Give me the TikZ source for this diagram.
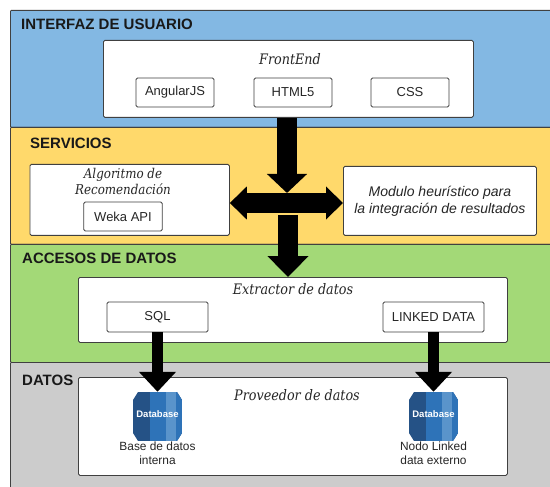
\documentclass[tikz,border=0pt]{standalone}
\usepackage{fontspec}
\setmainfont{Liberation Sans}
\newfontfamily\serifit[FakeStretch=0.88]{DejaVu Serif}
\usetikzlibrary{positioning, arrows.meta}
\definecolor{capablue}{HTML}{83B8E3}
\definecolor{capayellow}{HTML}{FFD96B}
\definecolor{capagreen}{HTML}{A3D977}
\definecolor{capagray}{HTML}{CCCCCC}
\definecolor{dbdark}{HTML}{255286}
\definecolor{dbmid}{HTML}{2E73B8}
\definecolor{dblight}{HTML}{5A94CB}
\tikzset{
layer/.style={draw=black!75, line width=0.8pt, rounded corners=1pt, anchor=north west, minimum width=545pt}, % the coloured bands
title/.style={font=\fontsize{15}{17}\selectfont\bfseries, text=black!90, inner sep=0pt},
panel/.style={draw=black!75, line width=0.8pt, fill=white, rounded corners=1.5pt, anchor=north west},
tech/.style={panel, font=\fontsize{13}{15}\selectfont, text=black!85, anchor=center, inner sep=0pt},
caption/.style={font=\fontsize{14.5}{15}\serifit\itshape\selectfont, text=black!85, inner sep=0pt, align=center},
small/.style={font=\fontsize{11.9}{14.5}\selectfont, text=black!85, inner sep=0pt, align=center},
bigarrow/.style={line width=19.5pt, -{Triangle[length=19pt,width=39pt]}, black},
thinarrow/.style={line width=10.5pt, -{Triangle[length=20pt,width=36pt]}, black},
dbnode/.style={minimum width=49pt, minimum height=49pt, inner sep=0pt, text=white, font=\fontsize{9.5}{10}\selectfont\bfseries,
  path picture={
    \clip ([xshift=5pt]path picture bounding box.north west) -- ([xshift=-5pt]path picture bounding box.north east)
      -- ([yshift=-8pt]path picture bounding box.north east) -- ([yshift=8pt]path picture bounding box.south east)
      -- ([xshift=-5pt]path picture bounding box.south east) -- ([xshift=5pt]path picture bounding box.south west)
      -- ([yshift=8pt]path picture bounding box.south west) -- ([yshift=-8pt]path picture bounding box.north west) -- cycle;
    \fill[dbdark] (path picture bounding box.south west) rectangle (path picture bounding box.north east);
    \fill[dbmid] ([xshift=16.5pt]path picture bounding box.south west) rectangle ([xshift=33pt]path picture bounding box.north west);
    \fill[dblight] ([xshift=33pt]path picture bounding box.south west) rectangle ([xshift=43pt]path picture bounding box.north west);
    \fill[dbmid] ([xshift=43pt]path picture bounding box.south west) rectangle (path picture bounding box.north east);
  }},
}

\begin{document}
\begin{tikzpicture}[x=1pt, y=-1pt]
\useasboundingbox (0,0) rectangle (550,487);
% bands
\node[layer, fill=capablue, minimum height=117pt] (ui) at (10,10) {};
\node[layer, fill=capayellow, minimum height=117pt] (serv) at (10,127) {};
\node[layer, fill=capagreen, minimum height=118pt] (acc) at (10,244) {};
\node[layer, fill=capagray, minimum height=135pt] (dat) at (10,362) {};
\node[title, anchor=west] (tui) at (21,24) {INTERFAZ DE USUARIO};
\node[title, anchor=west] (tserv) at (30,143) {SERVICIOS};
\node[title, anchor=west] (tacc) at (22,258) {ACCESOS DE DATOS};
\node[title, anchor=west] (tdat) at (22,380) {DATOS};
% front end
\node[panel, minimum width=370pt, minimum height=77pt] (front) at (103,40) {};
\node[caption] (cfront) at (290,59) {FrontEnd};
\node[tech, minimum width=78pt, minimum height=29pt] (angular) at (175,92.5) {AngularJS};
\node[tech, minimum width=78pt, minimum height=29pt] (html) at (293,92.5) {HTML5};
\node[tech, minimum width=78pt, minimum height=29pt] (css) at (410,92.5) {CSS};
% servicios
\node[panel, minimum width=199.5pt, minimum height=71pt] (algo) at (29.5,164) {};
\node[caption, font=\fontsize{13.5}{15.5}\serifit\itshape\selectfont] (calgo) at (123,181.5) {Algoritmo de\\Recomendación};
\node[tech, minimum width=78.5pt, minimum height=29pt] (weka) at (123,216.5) {Weka API};
\node[panel, minimum width=193pt, minimum height=69pt, align=center, font=\fontsize{14}{17}\selectfont\itshape, text=black!85] (modulo) at (343,166) {Modulo heurístico para\\la integración de resultados};
% accesos
\node[panel, minimum width=429pt, minimum height=65pt] (extr) at (78,277) {};
\node[caption] (cextr) at (293,289) {Extractor de datos};
\node[tech, minimum width=101pt, minimum height=30pt] (sql) at (157.5,317) {SQL};
\node[tech, minimum width=101pt, minimum height=30pt] (linked) at (433.5,317) {LINKED DATA};
% datos
\node[panel, minimum width=429pt, minimum height=98pt] (prov) at (78,377) {};
\node[caption] (cprov) at (297,395) {Proveedor de datos};
\node[dbnode] (dbint) at (157.5,416.5) {\raisebox{4pt}{Database}};
\node[dbnode] (dbext) at (433.5,416.5) {\raisebox{4pt}{Database}};
\node[small] (lint) at (157.5,453) {Base de datos\\interna};
\node[small] (lext) at (433.5,453) {Nodo Linked\\data externo};
% arrows
\coordinate (cross) at (287,203);
\coordinate (low) at (288,215);
\draw[bigarrow] (front.south -| cross) -- ([yshift=10pt]cross);
\draw[bigarrow, {Triangle[length=17pt,width=32pt]}-{Triangle[length=17pt,width=32pt]}] (algo.east |- cross) -- (modulo.west |- cross);
\draw[bigarrow, -{Triangle[length=21pt,width=40pt]}] (low) -- (low |- extr.north);
\draw[thinarrow] (sql.south) -- (dbint.north);
\draw[thinarrow] (linked.south) -- (dbext.north);
\end{tikzpicture}
\end{document}
